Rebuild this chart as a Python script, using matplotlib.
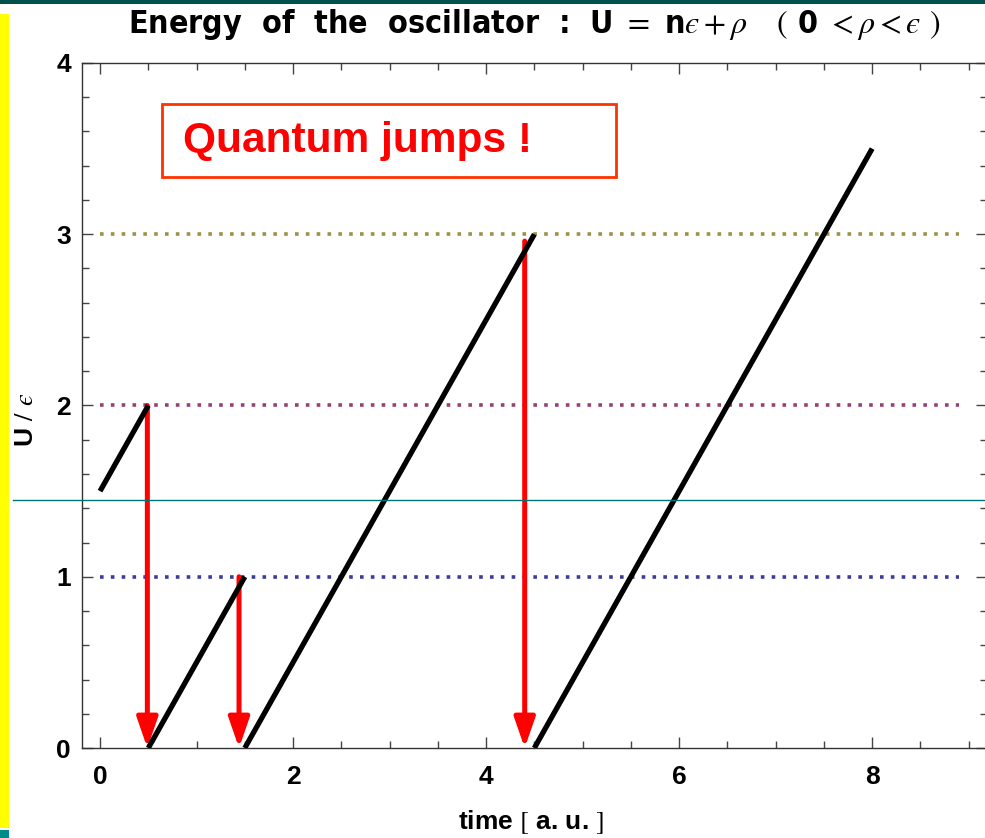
import matplotlib
matplotlib.use('Agg')
import matplotlib.pyplot as plt
from matplotlib.patches import Rectangle
from matplotlib.lines import Line2D
from matplotlib.ticker import MultipleLocator

# energy ramps (time, U/eps)
seg_t0 = [0.0, 0.5, 1.5, 4.5]
seg_t1 = [0.5, 1.5, 4.5, 8.0]
seg_u0 = [1.5, 0.0, 0.0, 0.0]
seg_u1 = [2.0, 1.0, 3.0, 3.5]

# quantum jumps (red arrows)
jump_t = [0.49, 1.44, 4.40]
jump_top = [2.0, 1.0, 2.96]

# energy levels
levels = [1, 2, 3]
level_colors = ['#3c3c9c', '#9a3f72', '#9c9145']
level_t_end = 8.9

plt.rcParams['mathtext.fontset'] = 'stix'
SANS = ['Liberation Sans', 'DejaVu Sans']
EPS = '\u03f5'

fig = plt.figure(figsize=(9.85, 8.38), dpi=100)
ax = fig.add_axes([82/985, 1 - 748/838, (987 - 82)/985, (748 - 63)/838])

for y, c in zip(levels, level_colors):
    ax.plot([0, level_t_end], [y, y], color=c, lw=2.6, linestyle=(0, (1, 2.0)),
            dash_capstyle='butt', zorder=2)

for t0, t1, u0, u1 in zip(seg_t0, seg_t1, seg_u0, seg_u1):
    ax.plot([t0, t1], [u0, u1], color='black', lw=3.8, solid_capstyle='butt', zorder=4)

for t, top in zip(jump_t, jump_top):
    ax.annotate('', xy=(t, 0), xytext=(t, top),
                arrowprops=dict(arrowstyle='-|>,head_length=1.3,head_width=0.45',
                                color='red', lw=3.6, mutation_scale=14,
                                shrinkA=0, shrinkB=0),
                zorder=3)

ax.set_xlim(-0.187, 9.19)
ax.set_ylim(0, 4)
ax.xaxis.set_major_locator(MultipleLocator(2))
ax.xaxis.set_minor_locator(MultipleLocator(0.5))
ax.yaxis.set_major_locator(MultipleLocator(1))
ax.yaxis.set_minor_locator(MultipleLocator(0.2))
ax.tick_params(which='both', direction='in', top=True, right=True, color='#444444')
ax.tick_params(which='major', length=8, width=1.0)
ax.tick_params(which='minor', length=5, width=1.0)
ax.tick_params(axis='x', which='major', pad=12)
ax.tick_params(axis='y', which='major', pad=8)
for s in ax.spines.values():
    s.set_linewidth(1.0)
    s.set_color('#333333')
for lab in ax.get_xticklabels() + ax.get_yticklabels():
    lab.set_family(SANS)
    lab.set_fontweight('bold')
    lab.set_fontsize(19)

ax.set_xlabel('time $[$ a. u. $]$', family=SANS, fontweight='bold', fontsize=19,
              va='center')
ax.xaxis.set_label_coords((531 - 82)/905, -(822 - 748)/685)
ax.set_ylabel('U $/$ $' + EPS + '$', family=SANS, fontweight='bold', fontsize=19,
              va='center')
ax.yaxis.set_label_coords((26 - 82)/905, (748 - 420)/685)

title = ('Energy  of  the  oscillator  :  U $=$ n$' + EPS + ' + \\rho$   '
         '$($ 0 $< \\rho < ' + EPS + '$ $)$')
fig.text(534/985, 1 - 24/838, title, family='DejaVu Sans', fontstretch='condensed',
         fontweight='bold', fontsize=23, ha='center', va='center')

# callout box
fig.add_artist(Rectangle((162/985, 1 - 177/838), (616 - 162)/985, (177 - 104)/838,
                         transform=fig.transFigure, fill=False, edgecolor='#ff3300', lw=2))
fig.text(183/985, 1 - 141/838, 'Quantum jumps !', family=SANS, fontweight='bold',
         fontsize=30.5, color='red', ha='left', va='center')

# slide decorations
fig.add_artist(Rectangle((0, 1 - 4/838), 1, 4/838, transform=fig.transFigure,
                         color='#00504c', lw=0))
fig.add_artist(Rectangle((0, 10/838), 9/985, (828 - 14)/838, transform=fig.transFigure,
                         color='#ffff00', lw=0))
fig.add_artist(Rectangle((0, 0), 9/985, 8/838, transform=fig.transFigure,
                         color='#008b8b', lw=0))
fig.add_artist(Line2D([13/985, 1], [1 - 500/838, 1 - 500/838], transform=fig.transFigure,
                      color='#007373', lw=1))

fig.savefig('out.png', dpi=100)
